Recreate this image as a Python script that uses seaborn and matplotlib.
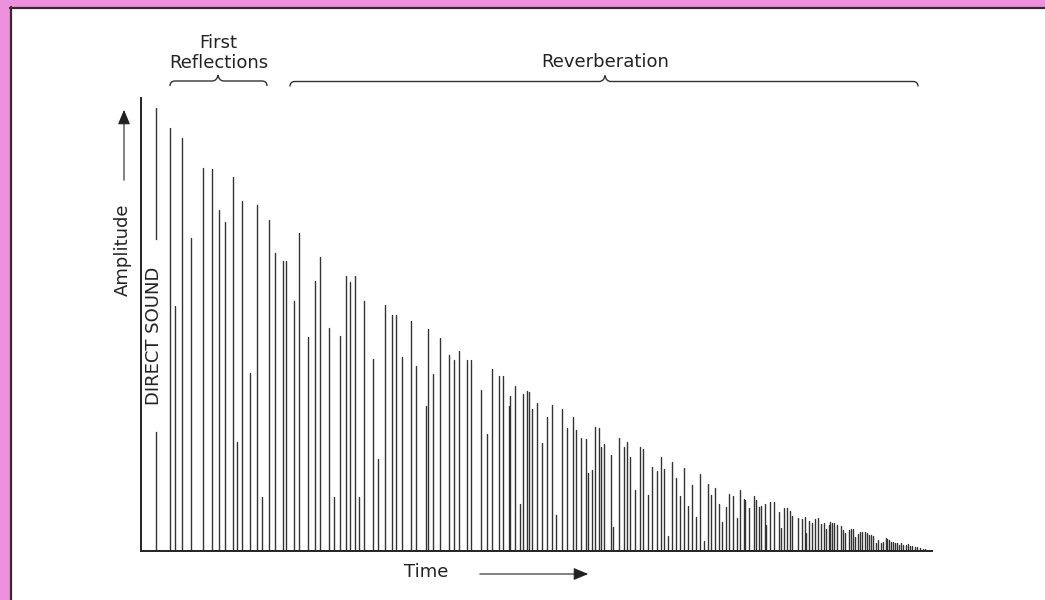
import numpy as np
import pandas as pd
import seaborn as sns
import matplotlib.pyplot as plt
import matplotlib.transforms as mtransforms
from matplotlib.path import Path
from matplotlib.patches import PathPatch, Rectangle, FancyArrowPatch

# Impulse response (time / amplitude in arbitrary units)
# first value is the direct sound
tempo = [
    14.7, 29.3, 34.0, 40.7, 49.7, 61.7, 70.7, 78.0, 84.0, 92.3, 96.3, 101.0,
    108.7, 115.7, 120.7, 128.0, 134.0, 142.3, 145.0, 152.7, 157.5,
    166.7, 173.7, 178.7, 187.7, 192.7, 199.3, 205.0, 209.3, 213.7, 217.7,
    223.0, 231.7, 237.0, 243.7, 251.3, 255.0, 261.0, 270.3, 274.7, 284.7,
    287.0, 291.7, 298.7, 307.7, 312.7, 318.0, 325.7, 330.3, 340.0, 345.7,
    351.0, 358.0, 362.3, 367.5, 369.0,
    374.0, 379.0, 381.7, 386.3, 387.7, 391.0, 395.7, 400.7, 406.0, 411.3,
    414.7, 420.7, 425.7, 431.7, 435.3, 440.3, 445.0, 447.3, 450.7, 454.0,
    458.0, 459.7, 463.0, 469.7, 471.7, 478.0, 482.7, 485.7, 489.3, 494.0,
    498.7, 502.3, 506.7, 511.3, 515.7, 519.7, 523.0, 526.7, 531.0, 535.0,
    539.3, 543.0, 547.0, 551.3, 555.3, 559.3,
    563.0, 567.0, 570.0, 573.7, 577.7, 581.0, 584.7, 587.7, 592.3, 595.7,
    599.0, 602.7, 604.3, 608.0, 613.0, 614.7, 618.3, 619.7, 624.0, 625.3,
    629.0, 633.0, 637.7, 640.0, 643.0, 646.3, 649.0, 651.3, 657.3, 660.7,
    663.7, 665.0, 667.7, 671.0, 673.7, 676.7, 679.7, 682.7, 685.3, 687.7,
    689.3, 691.3, 693.0, 695.7, 699.7, 702.3, 703.7, 707.7, 709.7, 711.7,
    714.0, 716.7, 719.3, 721.3, 723.7, 725.7, 728.0, 730.0, 732.3, 735.0,
    736.7, 740.0, 742.0, 744.7, 746.3, 748.0, 749.7, 751.7, 753.7, 755.7,
    757.7, 760.3, 762.3, 764.7, 766.7, 769.0, 771.3, 773.7, 776.3, 779.0,
    781.7, 784.3,
]
amplitude = [
    443, 423, 245, 413, 313, 383, 382, 341, 329, 374, 109, 350,
    178, 346, 54, 331, 298, 290, 290, 250, 318,
    214, 270, 294, 223, 54, 215, 275, 269, 275, 54,
    250, 192, 92, 246, 236, 236, 194, 230, 185, 145,
    222, 177, 213, 196, 191, 200, 191, 191, 161, 117,
    182, 175, 175, 145, 155,
    165, 47, 157, 160, 159, 142, 148, 108, 134, 146,
    36, 142, 123, 134, 121, 113, 112, 78, 81, 124,
    123, 104, 107, 96, 24, 113, 104, 109, 94, 61,
    104, 102, 56, 84, 80, 94, 82, 15, 89, 73,
    55, 83, 45, 66, 34, 77,
    10, 67, 56, 63, 47, 29, 44, 57, 55, 33,
    61, 52, 51, 43, 55, 51, 44, 45, 47, 26,
    49, 49, 39, 23, 43, 43, 40, 35, 33, 32,
    34, 18, 30, 28, 32, 33, 27, 28, 22, 26,
    29, 28, 28, 26, 25, 21, 18, 21, 22, 22,
    14, 17, 19, 19, 19, 18, 16, 16, 15, 8,
    11, 8, 9, 13, 12, 11, 9, 9, 8, 8,
    6, 8, 6, 6, 7, 5, 5, 4, 4, 3,
    2, 2,
]

# long format: each impulse is a vertical segment (0 -> amplitude)
linhas = []
for i, (t, a) in enumerate(zip(tempo, amplitude)):
    linhas.append({'id': i, 'tempo': t, 'amp': 0})
    linhas.append({'id': i, 'tempo': t, 'amp': a})
df = pd.DataFrame(linhas)

sns.set_theme(style="white")
plt.rcParams['font.family'] = ['DejaVu Sans']

W, H = 1045, 600
fig = plt.figure(figsize=(W / 100, H / 100), dpi=100)
fig.patch.set_facecolor('white')

# pixel coordinates (origin top-left) for the decorations
pix = mtransforms.Affine2D().scale(1 / W, -1 / H).translate(0, 1) + fig.transFigure

# pink frame of the scanned page
cor_rosa = '#ec8fdc'
fig.add_artist(Rectangle((0, 0), 10, H, transform=pix, facecolor=cor_rosa, edgecolor='none'))
fig.add_artist(Rectangle((0, 0), W, 7, transform=pix, facecolor=cor_rosa, edgecolor='none'))
fig.add_artist(plt.Line2D([11, 11], [7, H], transform=pix, color='#3a2a30', lw=1.6))
fig.add_artist(plt.Line2D([10, W], [7.5, 7.5], transform=pix, color='#3a2a30', lw=1.6))

ax = fig.add_axes([141 / W, 49 / H, 791 / W, 453 / H])
ax.set_facecolor('none')

sns.lineplot(
    data=df, x='tempo', y='amp', units='id', estimator=None,
    color='#333333', lw=1.0, legend=False, ax=ax
)

ax.set_xlim(0, 791)
ax.set_ylim(0, 453)
ax.set_xticks([])
ax.set_yticks([])
ax.set_xlabel('')
ax.set_ylabel('')
sns.despine(ax=ax, top=True, right=True)
for s in ['left', 'bottom']:
    ax.spines[s].set_color('#222222')
    ax.spines[s].set_linewidth(1.4)

cor_texto = '#222222'

# gap in the direct sound line for its label
ax.plot([tempo[0], tempo[0]], [121, 309], color='white', lw=3, zorder=5)
ax.text(tempo[0] - 1.5, 215, 'DIRECT SOUND', rotation=90, ha='center', va='center',
        fontsize=13, color=cor_texto, zorder=6)

# Amplitude label with arrow
fig.text(123 / W, 1 - 250 / H, 'Amplitude', rotation=90, ha='center', va='center',
         fontsize=13, color=cor_texto)
fig.add_artist(FancyArrowPatch((124, 183), (124, 107), transform=pix,
                               arrowstyle='-|>,head_length=6,head_width=2.5',
                               color=cor_texto, lw=0.8, mutation_scale=1.5))

# Time label with arrow
fig.text(426 / W, 1 - 572 / H, 'Time', ha='center', va='center',
         fontsize=13, color=cor_texto)
fig.add_artist(FancyArrowPatch((477, 574), (591, 574), transform=pix,
                               arrowstyle='-|>,head_length=6,head_width=2.5',
                               color=cor_texto, lw=0.8, mutation_scale=1.5))

# section titles
fig.text(218 / W, 1 - 43 / H, 'First', ha='center', va='center', fontsize=13, color=cor_texto)
fig.text(219 / W, 1 - 63 / H, 'Reflections', ha='center', va='center', fontsize=13, color=cor_texto)
fig.text(605 / W, 1 - 62 / H, 'Reverberation', ha='center', va='center', fontsize=13, color=cor_texto)


def chave(x0, x1, xm, y):
    """Curly brace (pixel coords) opening downwards."""
    verts = [
        (x0, y + 5), (x0, y), (x0 + 5, y),
        (xm - 6, y), (xm - 1, y), (xm, y - 6),
        (xm + 1, y), (xm + 6, y),
        (x1 - 5, y), (x1, y), (x1, y + 5),
    ]
    codes = [Path.MOVETO, Path.CURVE3, Path.CURVE3,
             Path.LINETO, Path.CURVE3, Path.CURVE3,
             Path.CURVE3, Path.CURVE3,
             Path.LINETO, Path.CURVE3, Path.CURVE3]
    fig.add_artist(PathPatch(Path(verts, codes), transform=pix, facecolor='none',
                             edgecolor='#333333', lw=1.0))


chave(170, 267, 218, 81)
chave(290, 918, 605, 81.5)

plt.savefig('out.png', dpi=100)
print("ok")
